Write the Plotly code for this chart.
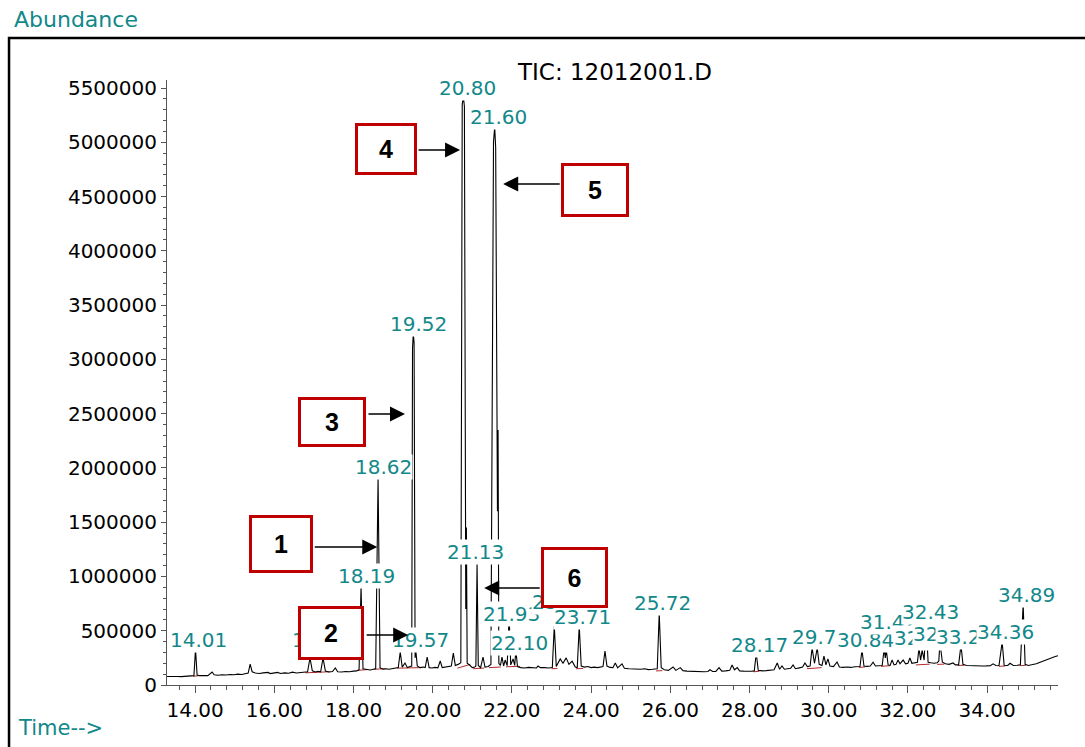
import plotly.graph_objects as go

# ---------------- data ----------------
tic_time = [
    13.29, 13.38, 13.47, 13.56, 13.65, 13.74, 13.83, 13.92, 13.97, 14.01, 14.05, 14.12, 14.22, 14.32,
    14.43, 14.48, 14.58, 14.68, 14.78, 14.88, 14.98, 15.08, 15.18, 15.28, 15.34, 15.39, 15.44, 15.52,
    15.62, 15.72, 15.84, 15.90, 16.00, 16.08, 16.16, 16.26, 16.36, 16.46, 16.56, 16.66, 16.76, 16.84,
    16.90, 16.96, 17.04, 17.10, 17.17, 17.23, 17.29, 17.38, 17.47, 17.54, 17.60, 17.70, 17.80, 17.90,
    18.00, 18.08, 18.14, 18.19, 18.24, 18.32, 18.42, 18.50, 18.56, 18.62, 18.67, 18.74, 18.82, 18.90,
    18.98, 19.06, 19.13, 19.18, 19.23, 19.30, 19.36, 19.43, 19.47, 19.49, 19.51, 19.53, 19.555, 19.57,
    19.61, 19.68, 19.76, 19.81, 19.86, 19.91, 19.98, 20.06, 20.13, 20.19, 20.24, 20.32, 20.40, 20.47,
    20.52, 20.57, 20.64, 20.71, 20.745, 20.775, 20.80, 20.835, 20.85, 20.87, 20.93, 21.00, 21.06, 21.09,
    21.12, 21.15, 21.21, 21.27, 21.32, 21.40, 21.47, 21.535, 21.565, 21.59, 21.635, 21.65, 21.67, 21.71,
    21.75, 21.79, 21.83, 21.88, 21.93, 21.97, 22.03, 22.07, 22.10, 22.14, 22.22, 22.32, 22.42, 22.52,
    22.62, 22.66, 22.72, 22.82, 22.92, 23.02, 23.07, 23.12, 23.22, 23.29, 23.37, 23.44, 23.52, 23.60,
    23.65, 23.70, 23.75, 23.83, 23.92, 24.00, 24.08, 24.16, 24.24, 24.30, 24.35, 24.40, 24.48, 24.55,
    24.61, 24.67, 24.78, 24.84, 24.95, 25.05, 25.15, 25.25, 25.35, 25.45, 25.55, 25.62, 25.67, 25.72,
    25.77, 25.85, 25.95, 26.07, 26.14, 26.25, 26.32, 26.42, 26.55, 26.65, 26.75, 26.85, 26.95, 27.00,
    27.07, 27.15, 27.23, 27.30, 27.40, 27.50, 27.56, 27.62, 27.69, 27.75, 27.85, 27.95, 28.05, 28.12,
    28.17, 28.22, 28.32, 28.42, 28.52, 28.62, 28.70, 28.76, 28.82, 28.88, 28.96, 29.04, 29.10, 29.16,
    29.26, 29.34, 29.40, 29.46, 29.53, 29.58, 29.64, 29.71, 29.76, 29.83, 29.88, 29.93, 29.98, 30.03,
    30.12, 30.21, 30.27, 30.36, 30.46, 30.56, 30.66, 30.75, 30.79, 30.84, 30.89, 30.97, 31.05, 31.12,
    31.18, 31.26, 31.35, 31.40, 31.43, 31.45, 31.50, 31.55, 31.60, 31.65, 31.70, 31.75, 31.80, 31.88,
    31.94, 32.00, 32.05, 32.10, 32.18, 32.24, 32.28, 32.32, 32.36, 32.41, 32.46, 32.51, 32.58, 32.66,
    32.74, 32.78, 32.80, 32.83, 32.87, 32.95, 33.04, 33.14, 33.20, 33.28, 33.34, 33.39, 33.48, 33.58,
    33.68, 33.78, 33.88, 33.98, 34.08, 34.15, 34.22, 34.30, 34.38, 34.43, 34.52, 34.58, 34.66, 34.76,
    34.84, 34.91, 34.96, 35.04, 35.14, 35.24, 35.34, 35.44, 35.54, 35.64, 35.72, 35.79,
]
tic_abundance = [
    78000, 80000, 76000, 79000, 77000, 80000, 79000, 82000, 86000, 332000, 92000, 86000, 89000, 86000,
    120000, 94000, 90000, 95000, 92000, 97000, 95000, 100000, 97000, 104000, 110000, 193000, 122000, 110000,
    106000, 112000, 116000, 105000, 110000, 116000, 106000, 112000, 108000, 118000, 110000, 114000, 116000, 122000,
    249000, 130000, 120000, 126000, 122000, 249000, 128000, 120000, 124000, 157000, 122000, 120000, 125000, 122000,
    128000, 130000, 140000, 903000, 150000, 142000, 138000, 145000, 150000, 1907000, 160000, 145000, 150000, 145000,
    150000, 155000, 160000, 304000, 165000, 203000, 160000, 170000, 175000, 3100000, 3240000, 3150000, 250000, 330000,
    175000, 160000, 165000, 160000, 258000, 160000, 157000, 162000, 158000, 221000, 160000, 165000, 170000, 175000,
    295000, 180000, 190000, 205000, 5350000, 5420000, 5330000, 700000, 1450000, 200000, 184000, 160000, 165000, 175000,
    1120000, 180000, 160000, 258000, 165000, 170000, 190000, 5000000, 5140000, 4950000, 1600000, 2350000, 200000, 180000,
    258000, 175000, 230000, 178000, 640000, 185000, 240000, 180000, 322000, 170000, 160000, 157000, 162000, 160000,
    157000, 175000, 160000, 160000, 157000, 162000, 544000, 170000, 240000, 200000, 250000, 190000, 220000, 165000,
    160000, 544000, 175000, 165000, 170000, 160000, 165000, 160000, 162000, 170000, 313000, 175000, 162000, 160000,
    203000, 158000, 195000, 155000, 150000, 148000, 150000, 145000, 150000, 142000, 145000, 148000, 150000, 663000,
    160000, 140000, 135000, 166000, 135000, 160000, 132000, 128000, 125000, 128000, 124000, 122000, 125000, 140000,
    124000, 125000, 160000, 128000, 130000, 135000, 184000, 140000, 160000, 130000, 128000, 125000, 127000, 130000,
    295000, 135000, 130000, 132000, 135000, 140000, 203000, 145000, 175000, 145000, 150000, 155000, 184000, 150000,
    158000, 165000, 203000, 170000, 175000, 341000, 200000, 341000, 190000, 180000, 267000, 185000, 240000, 175000,
    170000, 212000, 165000, 162000, 166000, 162000, 168000, 165000, 170000, 322000, 175000, 172000, 175000, 210000,
    175000, 178000, 180000, 332000, 250000, 332000, 185000, 180000, 230000, 185000, 190000, 230000, 195000, 230000,
    195000, 200000, 249000, 200000, 205000, 210000, 341000, 230000, 322000, 230000, 590000, 210000, 205000, 200000,
    205000, 220000, 340000, 330000, 210000, 195000, 190000, 203000, 185000, 185000, 368000, 190000, 180000, 178000,
    175000, 177000, 175000, 176000, 178000, 195000, 180000, 178000, 396000, 182000, 180000, 200000, 180000, 182000,
    185000, 746000, 190000, 180000, 185000, 195000, 210000, 225000, 240000, 255000, 262000, 270000,
]

# integration baselines (dark red), segments separated by None
base_time = [13.95, 14.15, None, 16.78, 17.40, None, 18.10, 18.35, None, 18.52, 18.80, None,
             19.10, 19.70, None, 20.62, 20.95, None, 21.02, 21.30, None, 21.42, 21.72, None,
             21.85, 22.20, None, 23.00, 23.15, None, 23.62, 23.80, None, 25.64, 25.80, None,
             28.10, 28.25, None, 29.45, 29.82, None, 30.76, 30.92, None, 31.32, 31.55, None,
             32.20, 32.55, None, 32.74, 32.92, None, 33.26, 33.42, None, 34.30, 34.46, None,
             34.84, 34.98]
base_abund = [80000, 88000, None, 112000, 122000, None, 135000, 142000, None, 145000, 150000, None,
              155000, 160000, None, 155000, 190000, None, 150000, 156000, None, 160000, 166000, None,
              168000, 172000, None, 150000, 152000, None, 150000, 152000, None, 130000, 132000, None,
              122000, 126000, None, 150000, 160000, None, 162000, 166000, None, 172000, 178000, None,
              185000, 192000, None, 190000, 192000, None, 180000, 182000, None, 172000, 175000, None,
              178000, 182000]

# peak labels (text, label centre in data coordinates)
label_text = ["14.01", "17.24", "18.19", "18.62", "19.52", "19.57", "20.80", "21.13", "21.60",
              "21.93", "22.10", "23.07", "23.71", "25.72", "28.17", "29.71", "30.84", "31.42",
              "32.28", "32.36", "32.43", "33.25", "34.36", "34.89"]
label_t = [14.08, 17.16, 18.32, 18.75, 19.63, 19.68, 20.87, 21.07, 21.67,
           21.98, 22.18, 23.22, 23.77, 25.79, 28.24, 29.78, 30.92, 31.52,
           32.36, 32.84, 32.56, 33.44, 34.46, 34.99]
label_y = [414600, 414600, 1004000, 2008000, 3326000, 414600, 5500000, 1225000, 5233000,
           654000, 387000, 765000, 626000, 755000, 368500, 442000, 414600, 580000,
           433000, 470000, 672500, 442000, 488000, 829000]

# numbered boxes and arrows
box_text = ["1", "2", "3", "4", "5", "6"]
box_t = [16.17, 17.43, 17.46, 18.83, 24.10, 23.58]
box_y = [1299000, 479000, 2423000, 4938000, 4560000, 990000]
box_w = [58, 60, 62, 56, 62, 61]
box_h = [52, 48, 44, 46, 48, 55]
arrow_t = [18.60, 19.38, 19.30, 20.69, 21.78, 21.30]
arrow_y = [1271000, 460600, 2497000, 4929000, 4616000, 893600]
arrow_dx = [-64, -43, -38, -43, 58, 57]

x_ticks = [14, 16, 18, 20, 22, 24, 26, 28, 30, 32, 34]
x_ticktext = ["14.00", "16.00", "18.00", "20.00", "22.00", "24.00", "26.00", "28.00", "30.00", "32.00", "34.00"]
y_ticks = [0, 500000, 1000000, 1500000, 2000000, 2500000, 3000000, 3500000, 4000000, 4500000, 5000000, 5500000]
y_ticktext = [str(v) for v in y_ticks]

TEAL = "#12888a"
FONT = "DejaVu Sans"

fig = go.Figure()
fig.add_trace(go.Scatter(x=base_time, y=base_abund, mode="lines",
                         line=dict(color="#b22a2a", width=1), hoverinfo="skip", connectgaps=False))
fig.add_trace(go.Scatter(x=tic_time, y=tic_abundance, mode="lines",
                         line=dict(color="black", width=1.1), hoverinfo="skip"))

for txt, t, y in zip(label_text, label_t, label_y):
    fig.add_annotation(x=t, y=y, xref="x", yref="y", text=txt, showarrow=False,
                       font=dict(family=FONT, size=20, color=TEAL), bgcolor="white",
                       borderpad=0, xanchor="center", yanchor="middle")

for t, y, dx in zip(arrow_t, arrow_y, arrow_dx):
    fig.add_annotation(x=t, y=y, xref="x", yref="y", text="", showarrow=True,
                       ax=dx, ay=0, arrowhead=2, arrowsize=2, arrowwidth=1.5,
                       arrowcolor="black", standoff=0)

for txt, t, y, w, h in zip(box_text, box_t, box_y, box_w, box_h):
    fig.add_annotation(x=t, y=y, xref="x", yref="y", text="<b>%s</b>" % txt, showarrow=False,
                       font=dict(family="Liberation Sans", size=25, color="black"),
                       bgcolor="white", bordercolor="#c00000", borderwidth=3, borderpad=0,
                       width=w, height=h, xanchor="center", yanchor="middle", valign="middle")

fig.add_annotation(x=0.5017, y=1.0132, xref="paper", yref="paper", text="TIC: 12012001.D",
                   showarrow=False, font=dict(family=FONT, size=23, color="black"),
                   xanchor="center", yanchor="middle")
fig.add_annotation(x=-0.174, y=1.0992, xref="paper", yref="paper", text="Abundance",
                   showarrow=False, font=dict(family=FONT, size=22, color=TEAL),
                   xanchor="left", yanchor="middle")
fig.add_annotation(x=-0.1695, y=-0.0711, xref="paper", yref="paper", text="Time-->",
                   showarrow=False, font=dict(family=FONT, size=21, color=TEAL),
                   xanchor="left", yanchor="middle")

# outer frame
fig.add_shape(type="rect", xref="paper", yref="paper", x0=-0.1773, x1=1.04, y0=-0.14, y1=1.0694,
              line=dict(color="black", width=2.5), fillcolor="rgba(0,0,0,0)", layer="above")

fig.update_layout(
    width=1085, height=747,
    margin=dict(l=167, r=27, t=80, b=62),
    paper_bgcolor="white", plot_bgcolor="white",
    showlegend=False, hovermode=False,
    font=dict(family=FONT, size=20, color="black"),
)
fig.update_xaxes(range=[13.29, 35.79], tickvals=x_ticks, ticktext=x_ticktext,
                 showline=True, linecolor="#555555", linewidth=1, showgrid=False, zeroline=False,
                 ticks="outside", ticklen=7, tickcolor="#555555", tickwidth=1,
                 tickfont=dict(family=FONT, size=20, color="black"),
                 minor=dict(dtick=0.4, tick0=14, ticks="outside", ticklen=4, tickcolor="#555555", showgrid=False))
fig.update_yaxes(range=[0, 5574000], tickvals=y_ticks, ticktext=y_ticktext,
                 showline=True, linecolor="#555555", linewidth=1, showgrid=False, zeroline=False,
                 ticks="outside", ticklen=5, tickcolor="#555555", tickwidth=1,
                 tickfont=dict(family=FONT, size=20, color="black"),
                 minor=dict(dtick=100000, tick0=0, ticks="outside", ticklen=3, tickcolor="#555555", showgrid=False))

fig.write_html("out.html", config={"displayModeBar": False})
